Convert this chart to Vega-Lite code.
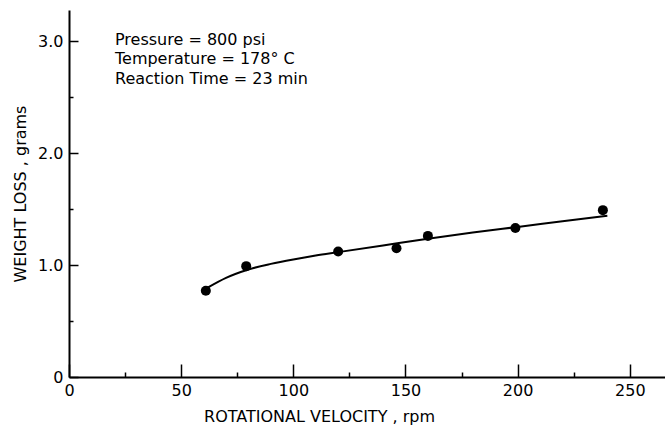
{
  "$schema": "https://vega.github.io/schema/vega-lite/v6.json",
  "width": 596,
  "height": 367,
  "autosize": {"type": "none"},
  "padding": {"left": 69, "top": 10, "right": 0, "bottom": 52},
  "background": "white",
  "config": {
    "view": {"stroke": null},
    "font": "DejaVu Sans",
    "axis": {"domainColor": "black", "domainWidth": 2, "tickColor": "black", "tickWidth": 1.5, "labelColor": "black", "titleColor": "black", "grid": false, "labelFont": "DejaVu Sans", "titleFont": "DejaVu Sans", "titleFontWeight": "normal", "labelFontSize": 16, "titleFontSize": 16}
  },
  "datasets": {
    "points": [
      {"rpm": 61, "loss": 0.77},
      {"rpm": 79, "loss": 0.99},
      {"rpm": 120, "loss": 1.12},
      {"rpm": 146, "loss": 1.15},
      {"rpm": 160, "loss": 1.26},
      {"rpm": 199, "loss": 1.33},
      {"rpm": 238, "loss": 1.49}
    ],
    "curve": [
      {"rpm": 62, "loss": 0.80},
      {"rpm": 70, "loss": 0.885},
      {"rpm": 80, "loss": 0.96},
      {"rpm": 90, "loss": 1.01},
      {"rpm": 100, "loss": 1.05},
      {"rpm": 110, "loss": 1.085},
      {"rpm": 120, "loss": 1.115},
      {"rpm": 140, "loss": 1.175},
      {"rpm": 160, "loss": 1.235},
      {"rpm": 180, "loss": 1.29},
      {"rpm": 200, "loss": 1.34},
      {"rpm": 220, "loss": 1.39},
      {"rpm": 240, "loss": 1.44}
    ],
    "notes": [
      {"rpm": 20.5, "loss": 2.964, "label": "Pressure = 800 psi"},
      {"rpm": 20.5, "loss": 2.795, "label": "Temperature = 178° C"},
      {"rpm": 20.5, "loss": 2.616, "label": "Reaction Time = 23 min"}
    ]
  },
  "layer": [
    {
      "data": {"name": "curve"},
      "mark": {"type": "line", "color": "black", "strokeWidth": 2, "interpolate": "monotone"},
      "encoding": {
        "x": {
          "field": "rpm", "type": "quantitative",
          "scale": {"domain": [0, 265.7], "nice": false, "zero": false},
          "axis": {
            "title": "ROTATIONAL VELOCITY , rpm",
            "values": [0, 25, 50, 75, 100, 125, 150, 175, 200, 225, 250],
            "labelExpr": "datum.value % 50 === 0 ? datum.label : ''",
            "format": "d",
            "tickSize": {"condition": {"test": "datum.value % 50 === 0", "value": -13}, "value": -5},
            "labelPadding": 18,
            "titlePadding": 2,
            "titleX": 250,
            "titleAlign": "center",
            "labelFlush": false,
            "labelOverlap": false
          }
        },
        "y": {
          "field": "loss", "type": "quantitative",
          "scale": {"domain": [0, 3.277], "nice": false},
          "axis": {
            "title": "WEIGHT LOSS , grams",
            "values": [0, 0.5, 1, 1.5, 2, 2.5, 3],
            "labelExpr": "datum.value === 0 ? '0' : (datum.value % 1 === 0 ? format(datum.value, '.1f') : '')",
            "tickSize": {"condition": {"test": "datum.value % 1 === 0", "value": -9}, "value": -4},
            "labelPadding": 15,
            "titlePadding": 9,
            "labelFlush": false,
            "labelOverlap": false
          }
        }
      }
    },
    {
      "data": {"name": "points"},
      "mark": {"type": "point", "filled": true, "shape": "circle", "color": "black", "opacity": 1, "size": 100},
      "encoding": {
        "x": {"field": "rpm", "type": "quantitative"},
        "y": {"field": "loss", "type": "quantitative"}
      }
    },
    {
      "data": {"name": "notes"},
      "mark": {"type": "text", "align": "left", "baseline": "alphabetic", "fontSize": 16, "color": "black", "font": "DejaVu Sans"},
      "encoding": {
        "x": {"field": "rpm", "type": "quantitative"},
        "y": {"field": "loss", "type": "quantitative"},
        "text": {"field": "label"}
      }
    }
  ]
}
